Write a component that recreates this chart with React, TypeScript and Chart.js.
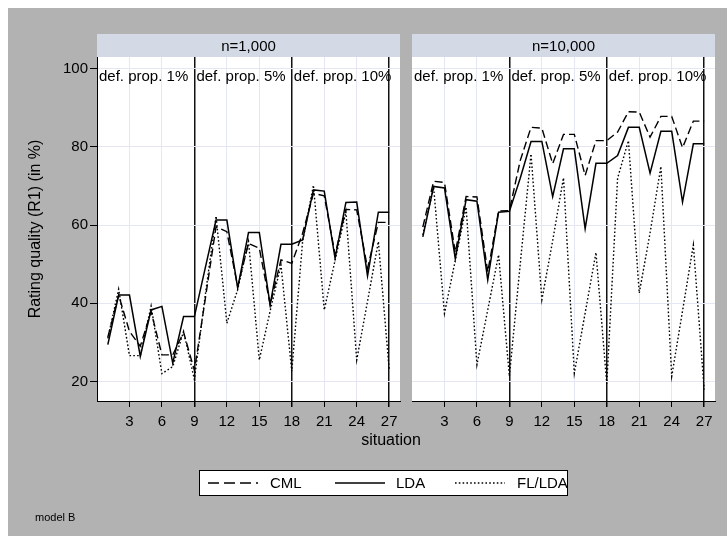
import React, { useEffect, useRef } from 'react';
import { Chart, registerables } from 'chart.js';

Chart.register(...registerables);

// ---------- data ----------
const situations = [1, 2, 3, 4, 5, 6, 7, 8, 9, 10, 11, 12, 13, 14, 15, 16, 17, 18, 19, 20, 21, 22, 23, 24, 25, 26, 27];

const cmlN1000 = [31.3, 42.1, 32.8, 29.0, 37.9, 26.8, 26.8, 32.6, 22.8, 41.0, 59.6, 58.3, 44.3, 55.3, 54.1, 39.6, 51.1, 50.2, 57.9, 68.1, 67.5, 52.5, 64.0, 63.9, 49.0, 60.7, 60.7];
const ldaN1000 = [29.4, 42.1, 42.1, 26.4, 38.3, 39.2, 24.7, 36.6, 36.6, 49.0, 61.3, 61.3, 43.9, 58.1, 58.1, 39.6, 55.1, 55.1, 56.2, 69.0, 68.7, 51.5, 65.8, 65.9, 47.0, 63.3, 63.3];
const flN1000 = [31.0, 43.6, 26.6, 26.6, 39.3, 22.0, 23.8, 32.8, 20.5, 42.0, 62.3, 34.9, 43.5, 55.8, 25.5, 38.0, 49.8, 22.6, 55.8, 70.2, 38.3, 51.0, 63.4, 25.5, 40.5, 55.8, 23.0];

const cmlN10000 = [59.5, 71.2, 70.9, 53.0, 67.3, 67.2, 48.0, 63.6, 63.7, 76.5, 85.0, 84.8, 75.7, 83.2, 83.2, 72.7, 81.6, 81.6, 83.8, 89.0, 88.9, 82.5, 87.8, 87.8, 79.8, 86.6, 86.6];
const ldaN10000 = [57.0, 69.9, 69.5, 51.4, 66.5, 66.1, 46.0, 63.3, 63.5, 72.0, 81.4, 81.4, 67.3, 79.5, 79.5, 59.1, 75.8, 75.8, 77.8, 85.0, 85.0, 73.3, 84.0, 84.0, 65.9, 80.8, 80.8];
const flN10000 = [57.5, 69.7, 37.4, 51.0, 64.6, 24.3, 38.3, 52.4, 21.3, 50.0, 78.2, 40.9, 56.0, 72.1, 22.1, 37.5, 53.0, 19.4, 72.0, 81.6, 42.6, 58.0, 75.0, 21.3, 38.0, 54.9, 17.9];

const xTicks = [3, 6, 9, 12, 15, 18, 21, 24, 27];
const yTicks = [20, 40, 60, 80, 100];
const groupStarts = [0, 9, 18];
const groupLabels = ['def. prop. 1%', 'def. prop. 5%', 'def. prop. 10%'];
const panelTitles = ['n=1,000', 'n=10,000'];
const seriesNames = ['CML', 'LDA', 'FL/LDA'];

// ---------- style ----------
const FONT = "'Liberation Sans', Arial, Helvetica, sans-serif";
const BG = '#b2b2b2';
const STRIP = '#d3d9e5';
const GRID = '#e4e7f1';

Chart.defaults.font.family = FONT;
Chart.defaults.color = '#000';

const bgPlugin = {
  id: 'plotBg',
  beforeDraw(chart: any) {
    const { ctx, chartArea } = chart;
    ctx.save();
    ctx.fillStyle = '#ffffff';
    ctx.fillRect(chartArea.left, chartArea.top, chartArea.right - chartArea.left, chartArea.bottom - chartArea.top);
    ctx.restore();
  },
};

const groupLabelPlugin = {
  id: 'groupLabels',
  afterDatasetsDraw(chart: any) {
    const { ctx, chartArea } = chart;
    const x = chart.scales.x;
    ctx.save();
    ctx.font = `15px ${FONT}`;
    ctx.fillStyle = '#000';
    ctx.textAlign = 'left';
    ctx.textBaseline = 'alphabetic';
    groupStarts.forEach((g, i) => {
      ctx.fillText(groupLabels[i], x.getPixelForValue(g) + 2, chartArea.top + 24);
    });
    ctx.restore();
  },
};

function makeConfig(cml: number[], lda: number[], fl: number[], showY: boolean): any {
  const pts = (arr: number[]) => arr.map((v, i) => ({ x: situations[i], y: v }));
  const yScale: any = showY
    ? {
        type: 'linear',
        min: 15,
        max: 103,
        afterBuildTicks: (s: any) => {
          s.ticks = yTicks.map((v) => ({ value: v }));
        },
        afterFit: (s: any) => {
          s.width = 89;
          s.paddingTop = 0;
          s.paddingBottom = 0;
        },
        grid: { color: GRID, tickColor: '#000', tickLength: 7, drawTicks: true },
        border: { display: true, color: '#000', width: 1 },
        ticks: { font: { size: 15, family: FONT }, color: '#000', padding: 2 },
        title: {
          display: true,
          text: 'Rating quality (R1) (in %)',
          font: { size: 16, family: FONT },
          color: '#000',
          padding: { top: 18, bottom: 0 },
        },
      }
    : {
        type: 'linear',
        min: 15,
        max: 103,
        afterBuildTicks: (s: any) => {
          s.ticks = yTicks.map((v) => ({ value: v }));
        },
        afterFit: (s: any) => {
          s.width = 7;
          s.paddingTop = 0;
          s.paddingBottom = 0;
        },
        grid: { color: GRID, drawTicks: false, tickLength: 0 },
        border: { display: false },
        ticks: { display: false },
      };

  return {
    type: 'line',
    data: {
      datasets: [
        { label: seriesNames[0], data: pts(cml), borderColor: '#000', borderWidth: 1.4, borderDash: [8, 4], pointRadius: 0, fill: false, tension: 0 },
        { label: seriesNames[1], data: pts(lda), borderColor: '#000', borderWidth: 1.5, pointRadius: 0, fill: false, tension: 0 },
        { label: seriesNames[2], data: pts(fl), borderColor: '#000', borderWidth: 1.4, borderDash: [1.6, 2.2], pointRadius: 0, fill: false, tension: 0 },
      ],
    },
    options: {
      animation: false,
      responsive: false,
      maintainAspectRatio: false,
      layout: { padding: { left: 0, top: 7, right: showY ? 8 : 12, bottom: 0 } },
      plugins: { legend: { display: false }, tooltip: { enabled: false } },
      scales: {
        x: {
          type: 'linear',
          min: 0,
          max: 28,
          afterBuildTicks: (s: any) => {
            s.ticks = xTicks.map((v) => ({ value: v }));
          },
          afterFit: (s: any) => {
            s.height = 29;
            s.paddingLeft = 0;
            s.paddingRight = 0;
          },
          grid: {
            color: (c: any) => (c.tick && c.tick.value % 9 === 0 ? '#111' : GRID),
            lineWidth: (c: any) => (c.tick && c.tick.value % 9 === 0 ? 1.5 : 1),
            tickColor: '#000',
            tickLength: 6,
            drawTicks: true,
          },
          border: { display: true, color: '#000', width: 1 },
          ticks: { font: { size: 15, family: FONT }, color: '#000', padding: 6, maxRotation: 0, autoSkip: false },
        },
        y: yScale,
      },
    },
    plugins: [bgPlugin, groupLabelPlugin],
  };
}

function Panel(props: { cml: number[]; lda: number[]; fl: number[]; showY: boolean; left: number; top: number; width: number; height: number }) {
  const ref = useRef<HTMLCanvasElement | null>(null);
  useEffect(() => {
    if (!ref.current) return;
    const chart = new Chart(ref.current, makeConfig(props.cml, props.lda, props.fl, props.showY));
    return () => chart.destroy();
  }, []);
  return (
    <canvas
      ref={ref}
      width={props.width}
      height={props.height}
      style={{ position: 'absolute', left: props.left, top: props.top, width: props.width, height: props.height }}
    />
  );
}

export default function App() {
  return (
    <div style={{ position: 'fixed', left: 0, top: 0, width: 727, height: 536, background: '#fff', overflow: 'hidden', fontFamily: FONT }}>
      <div style={{ position: 'absolute', left: 8, top: 8, right: 0, bottom: 0, background: BG }} />
      <div style={{ position: 'absolute', left: 97, top: 34, width: 303, height: 23, background: STRIP }} />
      <div style={{ position: 'absolute', left: 412, top: 34, width: 303, height: 23, background: STRIP }} />
      <Panel cml={cmlN1000} lda={ldaN1000} fl={flN1000} showY={true} left={8} top={50} width={400} height={380} />
      <Panel cml={cmlN10000} lda={ldaN10000} fl={flN10000} showY={false} left={405} top={50} width={322} height={380} />
      <svg width={727} height={536} style={{ position: 'absolute', left: 0, top: 0, pointerEvents: 'none' }}>
        <text x={248.5} y={50.5} fontSize={15} fontFamily={FONT} textAnchor="middle" fill="#000">{panelTitles[0]}</text>
        <text x={563.5} y={50.5} fontSize={15} fontFamily={FONT} textAnchor="middle" fill="#000">{panelTitles[1]}</text>
        <text x={391} y={445} fontSize={16} fontFamily={FONT} textAnchor="middle" fill="#000">situation</text>
        <g transform="translate(199,470)">
          <rect x={0.5} y={0.5} width={368} height={25} fill="#fff" stroke="#000" strokeWidth={1} />
          <line x1={9} y1={13} x2={59} y2={13} stroke="#000" strokeWidth={1.4} strokeDasharray="11 5" />
          <text x={71} y={18} fontSize={15} fontFamily={FONT} fill="#000">{seriesNames[0]}</text>
          <line x1={136} y1={13} x2={186} y2={13} stroke="#000" strokeWidth={1.5} />
          <text x={197} y={18} fontSize={15} fontFamily={FONT} fill="#000">{seriesNames[1]}</text>
          <line x1={256} y1={13} x2={306} y2={13} stroke="#000" strokeWidth={1.4} strokeDasharray="1.6 2.2" />
          <text x={318} y={18} fontSize={15} fontFamily={FONT} fill="#000">{seriesNames[2]}</text>
        </g>
        <text x={35} y={521} fontSize={11} fontFamily={FONT} fill="#000">model B</text>
      </svg>
    </div>
  );
}
